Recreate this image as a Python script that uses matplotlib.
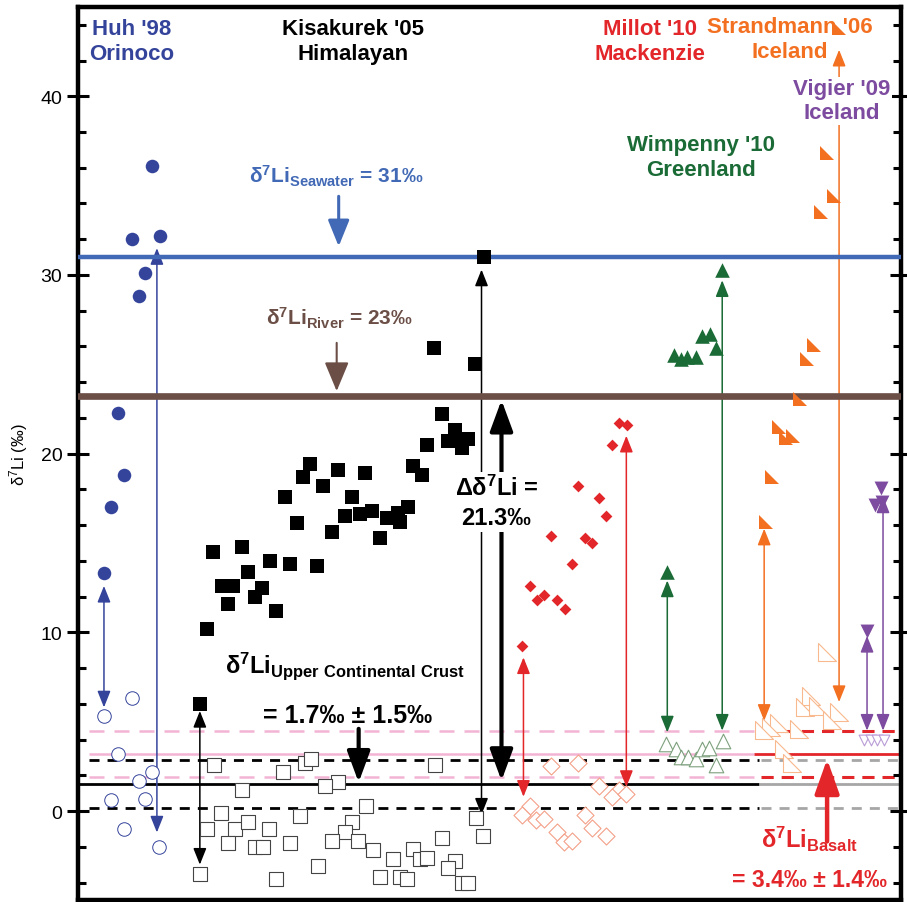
import matplotlib
matplotlib.use("Agg")
import matplotlib.pyplot as plt
from matplotlib.path import Path

plt.rcParams["font.family"] = ["Liberation Sans", "DejaVu Sans"]

# ---- data (x = position across the panel, y = d7Li in permil) ----
huh_x = [152, 132, 160, 145, 139, 118, 124, 111, 104]
huh_y = [36.1, 32.0, 32.2, 30.1, 28.8, 22.3, 18.8, 17.0, 13.3]
huh_open_x = [104, 132, 118, 152, 139, 111, 145, 124, 159]
huh_open_y = [5.3, 6.3, 3.2, 2.2, 1.7, 0.6, 0.7, -1.0, -2.0]

kis_x = [484, 434, 475, 442, 427, 455, 448, 462, 468, 462, 413, 422, 310, 303,
         338, 365, 323, 285, 352, 345, 360, 372, 387, 398, 400, 408, 380, 297,
         332, 213, 242, 270, 290, 317, 248, 222, 233, 262, 255, 228, 276, 207, 200]
kis_y = [31.0, 25.9, 25.0, 22.2, 20.5, 21.3, 20.7, 20.7, 20.8, 20.3, 19.3, 18.8, 19.4, 18.7,
         19.1, 18.9, 18.2, 17.6, 17.6, 16.5, 16.6, 16.8, 16.4, 16.7, 16.2, 17.0, 15.3, 16.1,
         15.6, 14.5, 14.8, 14.0, 13.8, 13.7, 13.4, 12.6, 12.6, 12.5, 12.0, 11.6, 11.2, 10.2, 6.0]
kis_open_x = [214, 283, 305, 311, 435, 242, 338, 325, 221, 207, 235, 248, 269, 228, 255,
              263, 290, 200, 276, 366, 300, 352, 345, 332, 358, 373, 393, 413, 420, 427,
              442, 455, 448, 318, 380, 400, 407, 462, 468, 476, 483]
kis_open_y = [2.6, 2.2, 2.7, 2.9, 2.6, 1.2, 1.6, 1.4, -0.1, -1.0, -1.0, -0.6, -1.0, -1.8, -2.0,
              -2.0, -1.8, -3.5, -3.8, 0.3, -0.3, -0.6, -1.2, -1.7, -1.7, -2.2, -2.7, -2.1, -2.7, -2.6,
              -1.5, -2.8, -3.2, -3.1, -3.7, -3.7, -3.8, -4.0, -4.0, -0.4, -1.4]

mil_x = [620, 628, 613, 579, 600, 607, 552, 586, 593, 573, 531, 538, 545, 558, 566, 523]
mil_y = [21.7, 21.6, 20.5, 18.2, 17.5, 16.5, 15.4, 15.3, 15.0, 13.8, 12.6, 11.8, 12.1, 11.8, 11.3, 9.25]
mil_open_x = [552, 579, 600, 620, 613, 627, 531, 523, 537, 545, 586, 558, 565, 573, 593, 607]
mil_open_y = [2.5, 2.7, 1.4, 1.2, 0.8, 0.95, 0.3, -0.2, -0.5, -0.45, -0.2, -1.2, -1.75, -1.65, -0.95, -1.4]

wim_x = [723, 703, 711, 717, 675, 682, 688, 697, 668]
wim_y = [30.3, 26.6, 26.7, 25.9, 25.5, 25.3, 25.4, 25.4, 13.4]
wim_open_x = [667, 677, 682, 689, 697, 703, 710, 724, 717]
wim_open_y = [3.75, 3.5, 3.05, 3.05, 2.9, 3.5, 3.55, 3.9, 2.6]

str_x = [840, 828, 835, 822, 815, 808, 801, 780, 787, 794, 773, 767]
str_y = [43.8, 36.8, 34.4, 33.5, 26.1, 25.3, 23.05, 21.5, 20.9, 21.0, 18.7, 16.2]
str_open_x = [828, 812, 806, 819, 840, 833, 780, 772, 765, 800, 785, 793]
str_open_y = [8.9, 6.45, 5.85, 5.9, 5.55, 5.1, 4.95, 4.7, 4.55, 4.6, 3.5, 2.7]

vig_x = [882, 876, 883, 868]
vig_y = [18.1, 17.1, 17.3, 10.1]
vig_open_x = [865, 872, 878, 885]
vig_open_y = [4.0, 4.0, 4.0, 4.0]

seawater = 31.0
river = 23.2
crust_mean, crust_sd = 1.5, 1.35
basalt_mean, basalt_sd = 3.2, 1.3

# connecting arrows: (x, start, end)
blue_arrows = [(104, 12.6, 5.8), (157, 31.5, -1.2)]
black_arrows = [(200, 5.6, -3.0), (482, 30.3, -0.2)]
red_arrows = [(524, 8.6, 0.8), (627, 21.0, 1.35)]
green_arrows = [(668, 12.9, 4.4), (723, 29.7, 4.5)]
orange_arrows = [(765, 15.8, 5.05), (840, 42.6, 6.1)]
purple_arrows = [(868, 9.8, 4.5), (884, 17.6, 4.5)]

# colours
c_blue = "#35449b"
c_sea = "#4169b5"
c_brown = "#6b4f47"
c_red = "#e2262a"
c_red_open = "#f4a088"
c_green = "#1a6b36"
c_green_open = "#7da07d"
c_orange = "#f37021"
c_orange_open = "#f8b98e"
c_purple = "#7d4b9f"
c_purple_open = "#b99cd6"
c_pink = "#f2b4d4"
c_gray = "#a6a6a6"

half_tri = Path([(-1, 1), (-1, -1), (1, -1), (-1, 1)],
                [Path.MOVETO, Path.LINETO, Path.LINETO, Path.CLOSEPOLY])

fig = plt.figure(figsize=(9.07, 9.03), dpi=100)
ax = fig.add_axes([78 / 907, 1.6 / 903, 823 / 907, 893.5 / 903])
ax.set_xlim(78, 902)
ax.set_ylim(-5, 45)

# reference lines
ax.axhline(seawater, color=c_sea, lw=3.2, zorder=3)
ax.axhline(river, color=c_brown, lw=4.8, zorder=3)
ax.hlines(basalt_mean, 89, 755, color=c_pink, lw=1.8, zorder=1)
ax.hlines([basalt_mean - basalt_sd, basalt_mean + basalt_sd], 89, 760, color=c_pink, lw=1.8,
          linestyles=[(0, (6, 4))], zorder=1)
ax.hlines(basalt_mean, 755, 902, color=c_red, lw=2.0, zorder=1)
ax.hlines([basalt_mean - basalt_sd, basalt_mean + basalt_sd], 762, 900, color=c_red, lw=2.2,
          linestyles=[(0, (4, 2.6))], zorder=1)
ax.hlines(crust_mean, 78, 760, color="black", lw=2.0, zorder=1)
ax.hlines([crust_mean - crust_sd, crust_mean + crust_sd], 89, 760, color="black", lw=2.0,
          linestyles=[(0, (3.6, 2.9))], zorder=1)
ax.hlines(crust_mean, 760, 902, color=c_gray, lw=2.0, zorder=1)
ax.hlines([crust_mean - crust_sd, crust_mean + crust_sd], 762, 902, color=c_gray, lw=2.0,
          linestyles=[(0, (3.6, 2.9))], zorder=1)


def arrow(x, y0, y1, color, lw=1.1, both=True, hl=1.0, hw=0.4, z=2):
    style = "<|-|>" if both else "-|>"
    ax.annotate("", xy=(x, y1), xytext=(x, y0),
                arrowprops=dict(arrowstyle=f"{style},head_length={hl},head_width={hw}",
                                color=color, lw=lw, shrinkA=0, shrinkB=0), zorder=z)


for arr, col in [(blue_arrows, c_blue), (black_arrows, "black"), (red_arrows, c_red),
                 (green_arrows, c_green), (orange_arrows, c_orange), (purple_arrows, c_purple)]:
    for x, a, b in arr:
        arrow(x, a, b, col)

arrow(502, 1.7, 23.0, "black", lw=3.0, hl=1.9, hw=0.7)
arrow(359, 4.6, 1.6, "black", lw=3.0, both=False, hl=1.9, hw=0.7)
arrow(828, -1.7, 2.9, c_red, lw=3.2, both=False, hl=2.1, hw=0.75)
arrow(339, 34.4, 31.6, c_sea, lw=2.2, both=False, hl=1.6, hw=0.65)
arrow(337, 26.2, 23.5, c_brown, lw=1.5, both=False, hl=1.8, hw=0.75)

# markers
ax.scatter(huh_x, huh_y, s=95, marker="o", color=c_blue, lw=0, zorder=5)
ax.scatter(huh_open_x, huh_open_y, s=95, marker="o", facecolor="white", edgecolor=c_blue, lw=0.7, zorder=5)
ax.scatter(kis_x, kis_y, s=90, marker="s", color="black", lw=0, zorder=5)
ax.scatter(kis_open_x, kis_open_y, s=90, marker="s", facecolor="white", edgecolor="#444444", lw=0.8, zorder=5)
ax.scatter(mil_x, mil_y, s=36, marker="D", color=c_red, lw=0, zorder=5)
ax.scatter(mil_open_x, mil_open_y, s=75, marker="D", facecolor="white", edgecolor=c_red_open, lw=0.8, zorder=5)
ax.scatter(wim_x, wim_y, s=110, marker="^", color=c_green, lw=0, zorder=5)
ax.scatter(wim_open_x, wim_open_y, s=110, marker="^", facecolor="white", edgecolor=c_green_open, lw=0.8, zorder=5)
ax.scatter(str_x, str_y, s=90, marker=half_tri, color=c_orange, lw=0, zorder=6)
ax.scatter(str_open_x, str_open_y, s=150, marker=half_tri, facecolor="white", edgecolor=c_orange_open, lw=0.8, zorder=5)
ax.scatter(vig_x, vig_y, s=100, marker="v", color=c_purple, lw=0, zorder=5)
ax.scatter(vig_open_x, vig_open_y, s=60, marker="v", facecolor="white", edgecolor=c_purple_open, lw=0.8, zorder=5)

# study labels
lab = dict(ha="center", va="center", fontsize=16, fontweight="bold", linespacing=1.22)
ax.text(132, 43.1, "Huh '98\nOrinoco", color=c_blue, **lab)
ax.text(353, 43.1, "Kisakurek '05\nHimalayan", color="black", **lab)
ax.text(651, 43.1, "Millot '10\nMackenzie", color=c_red, **lab)
ax.text(791, 43.2, "Strandmann '06\nIceland", color=c_orange, zorder=4, **lab)
ax.text(843, 39.75, "Vigier '09\nIceland", color=c_purple,
        bbox=dict(facecolor="white", edgecolor="none", pad=1), zorder=4, **lab)
ax.text(702, 36.6, "Wimpenny '10\nGreenland", color=c_green, **lab)

# reference value labels
ax.text(337, 35.2, r"$\mathregular{\delta^7Li_{Seawater}}$ = 31‰", color=c_sea,
        ha="center", va="baseline", fontsize=15, fontweight="bold")
ax.text(340, 27.25, r"$\mathregular{\delta^7Li_{River}}$ = 23‰", color=c_brown,
        ha="center", va="baseline", fontsize=15, fontweight="bold")
ax.text(225, 7.8, r"$\mathregular{\delta^7Li_{Upper\ Continental\ Crust}}$", color="black",
        ha="left", va="baseline", fontsize=17, fontweight="bold")
ax.text(348, 5.0, "= 1.7‰ ± 1.5‰", color="black",
        ha="center", va="baseline", fontsize=18, fontweight="bold")
ax.text(810, -2.0, r"$\mathregular{\delta^7Li_{Basalt}}$", color=c_red,
        ha="center", va="baseline", fontsize=17, fontweight="bold")
ax.text(810, -4.2, "= 3.4‰ ± 1.4‰", color=c_red,
        ha="center", va="baseline", fontsize=16.5, fontweight="bold")
ax.text(497, 17.3, "$\\mathregular{\\Delta\\delta^7Li}$ =\n21.3‰", color="black",
        ha="center", va="center", fontsize=17, fontweight="bold", linespacing=1.35,
        bbox=dict(facecolor="white", edgecolor="none", pad=2), zorder=4)

# axes styling
for side in ["left", "right", "top", "bottom"]:
    ax.spines[side].set_linewidth(3.2)
ax.set_xticks([])
ax.set_yticks(range(0, 41, 10))
ax.set_yticks(range(-4, 45, 2), minor=True)
ax.tick_params(axis="y", which="major", direction="inout", length=16.5, width=2.2,
               labelsize=14, pad=3, left=True, right=True)
ax.tick_params(axis="y", which="minor", direction="in", length=5.5, width=2.2,
               left=True, right=True)
ax.set_ylabel(r"$\mathregular{\delta^7}$Li (‰)", fontsize=12)
ax.yaxis.set_label_coords(-0.058, 0.5)

fig.savefig("out.png", dpi=100)
